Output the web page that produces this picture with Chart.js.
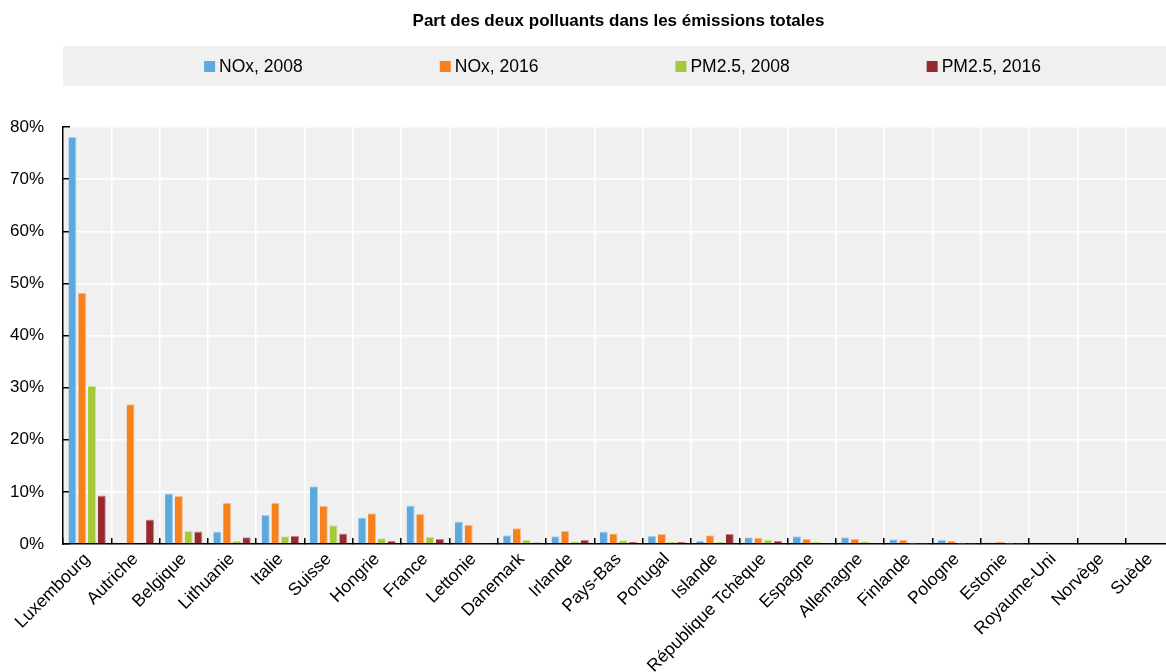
<!DOCTYPE html>
<html lang="fr">
<head>
<meta charset="utf-8">
<title>Part des deux polluants dans les émissions totales</title>
<script src="https://cdn.jsdelivr.net/npm/chart.js@4.4.1/dist/chart.umd.min.js"></script>
<style>
  html, body { margin: 0; padding: 0; background: #fff; overflow: hidden; }
  #wrap { position: relative; width: 1176px; height: 672px; }
</style>
</head>
<body>
<div id="wrap"><canvas id="emChart"></canvas></div>
<script>
const pays = ['Luxembourg', 'Autriche', 'Belgique', 'Lithuanie', 'Italie', 'Suisse', 'Hongrie', 'France',
  'Lettonie', 'Danemark', 'Irlande', 'Pays-Bas', 'Portugal', 'Islande', 'République Tchèque', 'Espagne',
  'Allemagne', 'Finlande', 'Pologne', 'Estonie', 'Royaume-Uni', 'Norvège', 'Suède'];

// part en % des émissions totales
const nox2008 = [78.1, null, 9.7, 2.4, 5.6, 11.1, 5.1, 7.4, 4.3, 1.7, 1.5, 2.4, 1.6, 0.6, 1.3, 1.5, 1.3, 0.9, 0.8, 0.3, null, null, null];
const nox2016 = [48.2, 26.8, 9.2, 7.9, 7.9, 7.3, 5.9, 5.8, 3.7, 3.0, 2.5, 2.0, 1.9, 1.7, 1.2, 1.0, 1.0, 0.8, 0.6, 0.4, null, null, null];
const pm2008 = [30.3, null, 2.5, 0.6, 1.5, 3.6, 1.1, 1.4, 0.1, 0.8, 0.5, 0.7, 0.4, 0.4, 0.8, 0.4, 0.5, 0.05, 0.05, 0.05, null, null, null];
const pm2016 = [9.3, 4.7, 2.4, 1.3, 1.6, 2.0, 0.6, 1.0, 0.1, 0.3, 0.8, 0.4, 0.4, 1.9, 0.6, 0.1, 0.2, 0.05, 0.05, 0.05, null, null, null];

const series = ['NOx, 2008', 'NOx, 2016', 'PM2.5, 2008', 'PM2.5, 2016'];
const yMax = 80;
const yStep = 10;

const couleurs = ['#5DA9DE', '#F5821F', '#A6C93B', '#962A2E'];
const bords = ['#A9D2EE', '#F9BD8A', '#D0E39A', '#C98A8D'];
const police = '"Liberation Sans", Arial, sans-serif';

const ctx = document.getElementById('emChart').getContext('2d');

// fond gris de la zone de tracé
const fondGris = {
  id: 'fondGris',
  beforeDraw(chart) {
    const { ctx, chartArea } = chart;
    ctx.save();
    ctx.fillStyle = '#F0F0F0';
    ctx.fillRect(chartArea.left, chartArea.top, chartArea.right - chartArea.left, chartArea.bottom - chartArea.top);
    ctx.restore();
  }
};

// légende dans un bandeau gris sous le titre
const legendeBandeau = {
  id: 'legendeBandeau',
  afterDraw(chart) {
    const { ctx, chartArea } = chart;
    ctx.save();
    ctx.fillStyle = '#F0F0F0';
    ctx.fillRect(chartArea.left, 46, chart.width - chartArea.left, 40);
    ctx.font = '17.5px ' + police;
    const items = chart.data.datasets.map(ds => ({
      label: ds.label,
      color: ds.backgroundColor,
      w: 11 + 4 + ctx.measureText(ds.label).width
    }));
    const ecart = 137;
    const total = items.reduce((s, it) => s + it.w, 0) + ecart * (items.length - 1);
    let x = (chartArea.left + chartArea.right) / 2 - total / 2 + 4;
    const y = 66.5;
    ctx.textBaseline = 'middle';
    ctx.textAlign = 'left';
    items.forEach(it => {
      ctx.fillStyle = it.color;
      ctx.fillRect(x, y - 5.5, 11, 11);
      ctx.fillStyle = '#000';
      ctx.fillText(it.label, x + 15, y + 1);
      x += it.w + ecart;
    });
    ctx.restore();
  }
};

const valeurs = [nox2008, nox2016, pm2008, pm2016];

const data = {
  labels: pays,
  datasets: series.map((nom, i) => ({
    label: nom,
    data: valeurs[i],
    backgroundColor: couleurs[i],
    borderColor: bords[i],
    borderWidth: { top: 1, right: 1, left: 0, bottom: 0 },
    borderSkipped: false,
    barPercentage: 0.82,
    categoryPercentage: 0.81
  }))
};

const options = {
  responsive: true,
  maintainAspectRatio: false,
  animation: false,
  layout: { padding: { left: 0, right: 2, top: 0, bottom: 0 } },
  plugins: {
    title: {
      display: true,
      text: 'Part des deux polluants dans les émissions totales',
      fullSize: false,
      color: '#000',
      font: { family: police, size: 17, weight: 'bold', lineHeight: 1.2 },
      padding: { top: 11, bottom: 95.6 }
    },
    legend: { display: false },
    tooltip: { enabled: false }
  },
  scales: {
    x: {
      grid: { color: '#fff', lineWidth: 1.5, tickColor: '#000', tickWidth: 1.5, tickLength: -6, offset: true },
      border: { color: '#000', width: 1.5 },
      ticks: {
        color: '#000',
        font: { family: police, size: 17.5 },
        minRotation: 45,
        maxRotation: 45,
        autoSkip: false,
        padding: 11
      },
      afterFit(scale) {
        scale.height = 128;
        scale.paddingLeft = 0;
        scale.paddingRight = 0;
      }
    },
    y: {
      min: 0,
      max: yMax,
      grid: { color: '#fff', lineWidth: 1.5, tickColor: '#000', tickWidth: 1.5, tickLength: -7 },
      border: { color: '#000', width: 1.5 },
      ticks: {
        stepSize: yStep,
        color: '#000',
        font: { family: police, size: 17 },
        padding: 26,
        callback: v => v + '%'
      },
      afterFit(scale) {
        scale.width = 63;
        scale.paddingTop = 0;
        scale.paddingBottom = 0;
      }
    }
  }
};

const chart = new Chart(ctx, {
  type: 'bar',
  data: data,
  options: options,
  plugins: [fondGris, legendeBandeau]
});
</script>
</body>
</html>
